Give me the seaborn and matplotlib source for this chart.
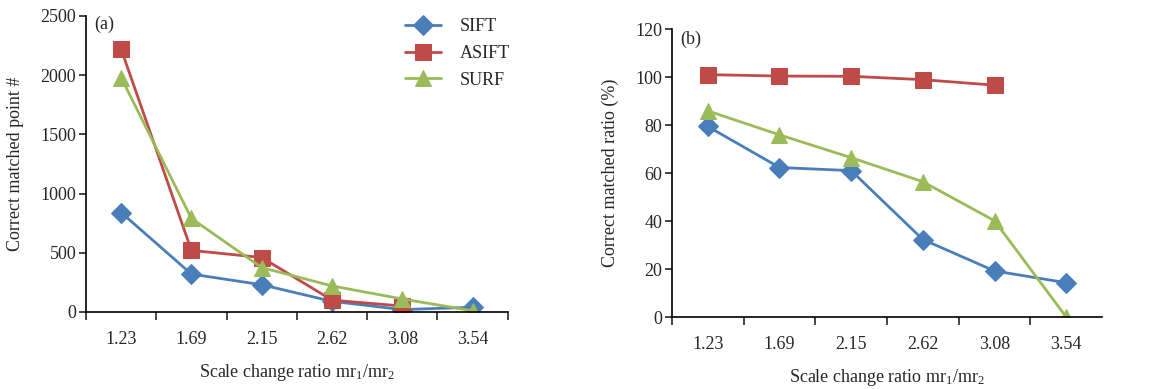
import numpy as np
import pandas as pd
import matplotlib
matplotlib.use("Agg")
import matplotlib.pyplot as plt
import seaborn as sns

categories = ["1.23", "1.69", "2.15", "2.62", "3.08", "3.54"]
series_names = ["SIFT", "ASIFT", "SURF"]

points_sift = [840, 320, 230, 90, 20, 40]
points_asift = [2220, 520, 460, 100, 50, np.nan]
points_surf = [1980, 790, 375, 220, 110, 10]

ratio_sift = [79.4, 62.3, 61.0, 32.3, 19.2, 14.3]
ratio_asift = [101.0, 100.4, 100.3, 98.9, 96.6, np.nan]
ratio_surf = [85.9, 75.9, 66.4, 56.4, 40.1, 0.0]

colors = {"SIFT": "#4A7EBB", "ASIFT": "#BE4B48", "SURF": "#9BBB59"}
markers = {"SIFT": "D", "ASIFT": "s", "SURF": "^"}

sns.set_style("ticks")
plt.rcParams["font.family"] = ["Liberation Serif", "DejaVu Serif"]
plt.rcParams["mathtext.fontset"] = "custom"
plt.rcParams["mathtext.rm"] = "Liberation Serif"
plt.rcParams["mathtext.it"] = "Liberation Serif"


def long_df(vals):
    rows = []
    for name, v in zip(series_names, vals):
        for i, y in enumerate(v):
            rows.append({"x": i, "y": y, "Method": name})
    return pd.DataFrame(rows)


df_a = long_df([points_sift, points_asift, points_surf])
df_b = long_df([ratio_sift, ratio_asift, ratio_surf])

fig = plt.figure(figsize=(11.54, 3.89), dpi=100)
ax1 = fig.add_axes([0.0745, 0.198, 0.3655, 0.761])
ax2 = fig.add_axes([0.5823, 0.185, 0.3727, 0.7404])

ms = {"SIFT": 10, "ASIFT": 11, "SURF": 12}

for ax, df in ((ax1, df_a), (ax2, df_b)):
    for name in series_names:
        sub = df[df["Method"] == name].dropna()
        sns.lineplot(data=sub, x="x", y="y", ax=ax, color=colors[name],
                     marker=markers[name], markersize=ms[name],
                     markeredgecolor=colors[name], linewidth=2.0,
                     label=name, legend=False)
    ax.set_xlim(-0.5, 5.5)
    ax.set_xticklabels([])
    ax.set_xticks(np.arange(6), minor=True)
    ax.set_xticklabels(categories, minor=True)
    ax.tick_params(axis="x", which="minor", length=0, pad=14, labelsize=13)
    ax.tick_params(axis="x", which="major", length=6, width=1.2, direction="out")
    ax.tick_params(axis="y", length=5, width=1.2, direction="out", labelsize=13, pad=2)
    ax.set_xlabel("Scale change ratio mr$_1$/mr$_2$", fontsize=13, labelpad=10)
    for s in ("left", "bottom"):
        ax.spines[s].set_linewidth(1.2)
        ax.spines[s].set_color("black")
    sns.despine(ax=ax)

ax1.set_xticks(np.arange(-0.5, 6.0, 1.0))
ax1.set_xticklabels([])
ax2.set_xticks(np.arange(-0.5, 5.0, 1.0))
ax2.set_xticklabels([])

ax1.set_ylim(0, 2500)
ax1.set_yticks(np.arange(0, 2501, 500))
ax1.set_ylabel("Correct matched point #", fontsize=13, labelpad=12)
ax1.text(0.02, 1.0, "(a)", transform=ax1.transAxes, fontsize=13, va="top", ha="left")

ax2.set_ylim(0, 120)
ax2.set_yticks(np.arange(0, 121, 20))
ax2.set_ylabel("Correct matched ratio (%)", fontsize=13, labelpad=12)
ax2.text(0.02, 0.995, "(b)", transform=ax2.transAxes, fontsize=13, va="top", ha="left")

handles, labels = ax1.get_legend_handles_labels()
ax1.legend(handles, labels, loc="upper right", bbox_to_anchor=(1.03, 1.03),
           frameon=False, fontsize=13, handlelength=2.0, labelspacing=0.55,
           handletextpad=1.0, borderaxespad=0.2)

fig.savefig("out.png", dpi=100)
